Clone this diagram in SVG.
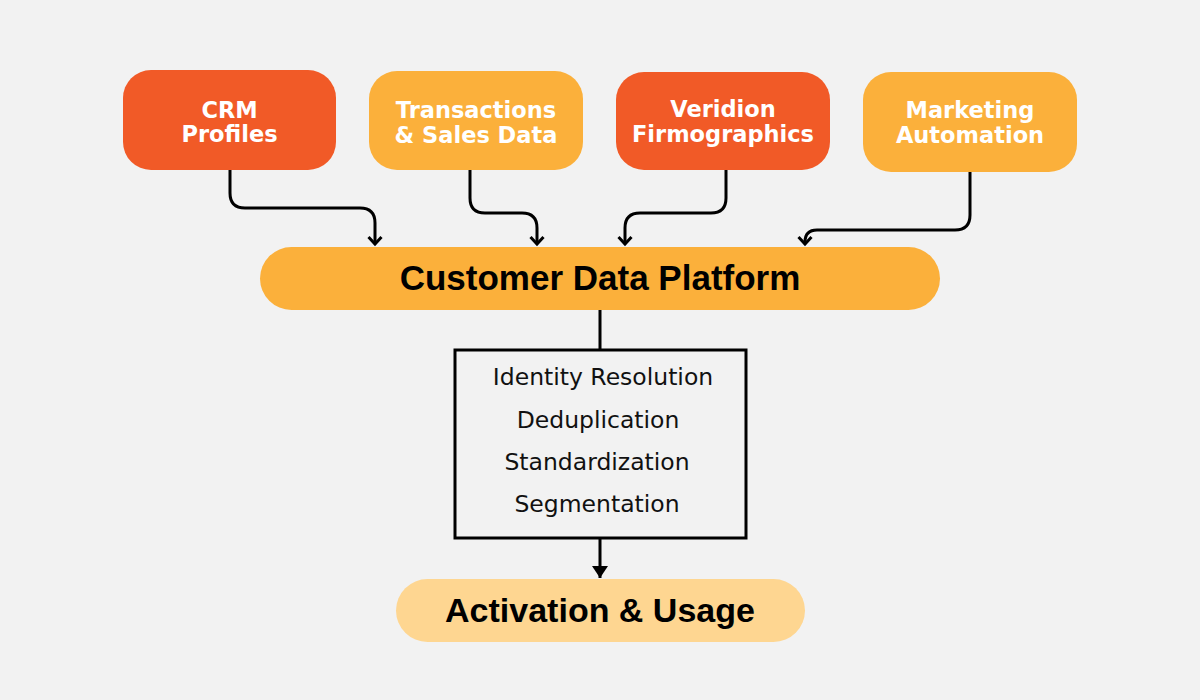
<svg xmlns="http://www.w3.org/2000/svg" width="1200" height="700" viewBox="0 0 1200 700">
<defs>
<style>
.red{fill:#f15a27}
.amber{fill:#fbb03b}
.light{fill:#fed691}
.lbl{font-family:"DejaVu Sans","Liberation Sans",sans-serif;font-weight:bold;font-size:22.5px;fill:#ffffff;text-anchor:middle}
.big{font-family:"Liberation Sans",Arial,sans-serif;font-weight:bold;fill:#000000;text-anchor:middle}
.proc{font-family:"DejaVu Sans","Liberation Sans",sans-serif;font-size:23.5px;fill:#111111;text-anchor:middle}
.conn{fill:none;stroke:#000000;stroke-width:3}
</style>
<marker id="chev" markerUnits="userSpaceOnUse" markerWidth="16" markerHeight="16" viewBox="0 0 16 16" refX="11" refY="8" orient="auto">
<path d="M4,1.5 L11,8 L4,14.5" fill="none" stroke="#000" stroke-width="3" stroke-linejoin="miter" stroke-linecap="butt"/>
</marker>
<marker id="tri" markerUnits="userSpaceOnUse" markerWidth="16" markerHeight="18" viewBox="0 0 16 18" refX="14" refY="9" orient="auto">
<path d="M2,1 L14,9 L2,17 Z" fill="#000"/>
</marker>
</defs>
<rect width="1200" height="700" fill="#f2f2f2"/>

<g id="connectors">
<path class="conn" d="M230,170 V193 Q230,208 245,208 H360 Q375,208 375,223 V244" marker-end="url(#chev)"/>
<path class="conn" d="M470,170 V198 Q470,213 485,213 H522 Q537,213 537,228 V244" marker-end="url(#chev)"/>
<path class="conn" d="M726,170 V198 Q726,213 711,213 H640 Q625,213 625,228 V244" marker-end="url(#chev)"/>
<path class="conn" d="M970,172 V215 Q970,230 955,230 H817 Q805,230 805,242 V244" marker-end="url(#chev)"/>
<path class="conn" d="M600,310 V350"/>
<path class="conn" d="M600,538 V578" marker-end="url(#tri)"/>
</g>

<g id="crm">
<rect class="red" x="123" y="70" width="213" height="100" rx="28"/>
<text class="lbl" x="229.5" y="118">CRM</text>
<text class="lbl" x="229.5" y="142">Profiles</text>
</g>
<g id="transactions">
<rect class="amber" x="369" y="71" width="214" height="99" rx="28"/>
<text class="lbl" x="476" y="118">Transactions</text>
<text class="lbl" x="476" y="143">&amp; Sales Data</text>
</g>
<g id="veridion">
<rect class="red" x="616" y="72" width="214" height="98" rx="28"/>
<text class="lbl" x="723" y="117">Veridion</text>
<text class="lbl" x="723" y="142">Firmographics</text>
</g>
<g id="marketing">
<rect class="amber" x="863" y="72" width="214" height="100" rx="28"/>
<text class="lbl" x="970" y="118">Marketing</text>
<text class="lbl" x="970" y="143">Automation</text>
</g>

<g id="cdp">
<rect class="amber" x="260" y="247" width="680" height="63" rx="31.5"/>
<text class="big" x="600" y="290" font-size="35">Customer Data Platform</text>
</g>

<g id="processing">
<rect x="455" y="350" width="291" height="188" fill="none" stroke="#000" stroke-width="3"/>
<text class="proc" x="603" y="385">Identity Resolution</text>
<text class="proc" x="598" y="428">Deduplication</text>
<text class="proc" x="597" y="470">Standardization</text>
<text class="proc" x="597" y="512">Segmentation</text>
</g>

<g id="activation">
<rect class="light" x="396" y="579" width="409" height="63" rx="31.5"/>
<text class="big" x="600" y="622" font-size="34">Activation &amp; Usage</text>
</g>
</svg>
